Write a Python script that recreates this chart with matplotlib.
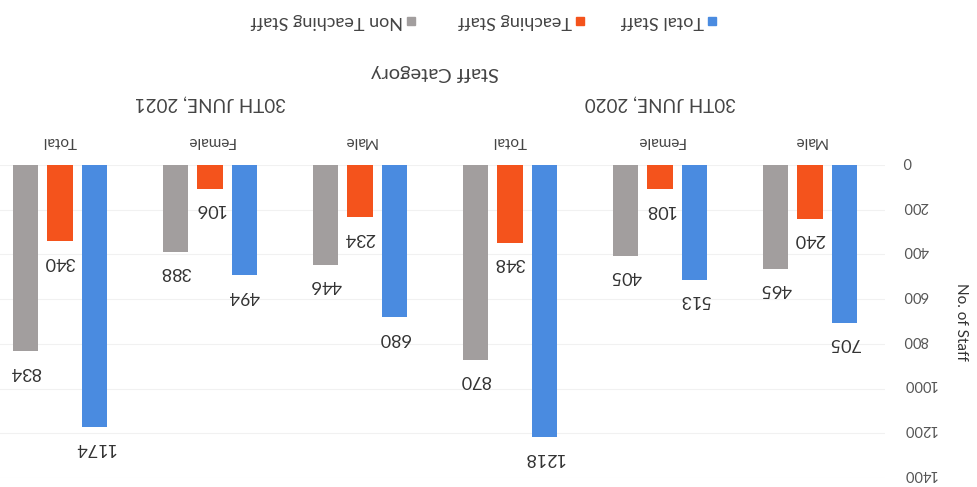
import matplotlib
matplotlib.use("Agg")
import matplotlib.pyplot as plt
import numpy as np
from matplotlib.patches import Rectangle
from matplotlib.transforms import blended_transform_factory

plt.rcParams["font.family"] = ["Lato", "DejaVu Sans"]

CATEGORIES = ["Male", "Female", "Total", "Male", "Female", "Total"]
PERIODS = ["30TH JUNE, 2020", "30TH JUNE, 2021"]
TOTAL_STAFF = [705, 513, 1218, 680, 494, 1174]
TEACHING = [240, 108, 348, 234, 106, 340]
NON_TEACHING = [465, 405, 870, 446, 388, 834]
SERIES = ["Total Staff", "Teaching Staff", "Non Teaching Staff"]
COLORS = ["#4a8be0", "#f4531c", "#a29e9e"]
Y_TICKS = np.arange(0, 1401, 200)

W, H = 978, 487
fig = plt.figure(figsize=(W / 100, H / 100), dpi=100)
# whole chart is printed upside down: inverted axes, text turned 180 degrees
ax = fig.add_axes([-15 / W, 1 - 478 / H, 900 / W, 313 / H])

x = np.arange(len(CATEGORIES))
step, bw = 0.228, 0.168
for i, (vals, col) in enumerate(zip([TOTAL_STAFF, TEACHING, NON_TEACHING], COLORS)):
    pos = x + (i - 1) * step
    ax.bar(pos, vals, bw, color=col)
    for p, v in zip(pos, vals):
        ax.annotate(str(v), (p, v), xytext=(0, -9), textcoords="offset points",
                    ha="center", va="top", rotation=180, fontsize=13,
                    color="#333333")

ax.set_xlim(len(CATEGORIES) - 0.5, -0.5)
ax.set_ylim(1400, 0)
ax.set_yticks(Y_TICKS)
ax.set_yticklabels([])
ax.tick_params(axis="y", length=0)
# y tick labels drawn by hand so the flipped digits sit on the gridlines
ytrans = blended_transform_factory(ax.transAxes, ax.transData)
for v in Y_TICKS:
    ax.annotate(str(v), (1.0, v), xycoords=ytrans, xytext=(13, 3),
                textcoords="offset points", rotation=180, ha="left",
                va="center", fontsize=10.5, color="#555555")
ax.xaxis.tick_top()
ax.set_xticks(x)
ax.set_xticklabels(CATEGORIES, rotation=180, fontsize=11, color="#444444")
ax.tick_params(axis="x", length=0, pad=12)
ax.grid(axis="y", color="#f1f1f1", lw=0.8)
ax.set_axisbelow(True)
for s in ax.spines.values():
    s.set_visible(False)

trans = blended_transform_factory(ax.transData, ax.transAxes)
for k, label in enumerate(PERIODS):
    ax.text(1 + 3 * k, 1.198, label, transform=trans, rotation=180,
            ha="center", va="center", fontsize=13.5, color="#444444")
ax.text(0.5, 1.297, "Staff Category", transform=ax.transAxes, rotation=180,
        ha="center", va="center", fontsize=14.5, color="#444444")
ax.text(1.085, 0.5, "No. of Staff", transform=ax.transAxes, rotation=270,
        ha="center", va="center", fontsize=11, color="#333333")

# legend, laid out right to left
legend_x = [712, 580, 411]
for lx, name, col in zip(legend_x, SERIES, COLORS):
    fig.patches.append(Rectangle(((lx - 4) / W, 1 - 25 / H), 8 / W, 8 / H,
                                 transform=fig.transFigure, color=col))
    fig.text((lx - 8) / W, 1 - 21 / H, name, rotation=180, ha="right",
             va="center", fontsize=13, color="#444444")

fig.savefig("out.png", dpi=100)
